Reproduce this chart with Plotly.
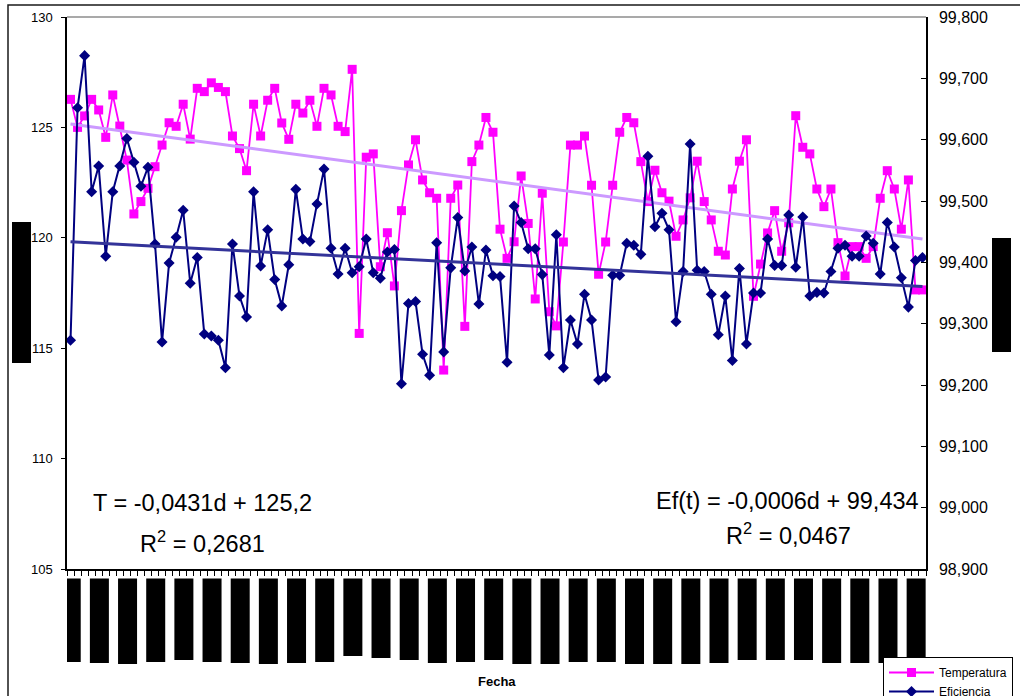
import numpy as np
import plotly.graph_objects as go

# Daily series (one value per day, 122 days)
temperatura = [
    126.27, 125.00, 125.52, 126.27, 125.79, 124.55, 126.47, 125.06, 123.52, 121.08,
    121.64, 122.24, 123.22, 124.20, 125.21, 125.05, 126.05, 124.47, 126.77, 126.62,
    127.02, 126.81, 126.62, 124.61, 124.04, 123.04, 126.05, 124.61, 126.23, 126.77,
    125.20, 124.46, 126.05, 125.65, 126.23, 125.05, 126.77, 126.47, 125.05, 124.81,
    127.63, 115.67, 123.65, 123.80, 118.69, 120.23, 117.82, 121.23, 123.30, 124.44,
    122.62, 122.04, 121.79, 114.01, 121.79, 122.39, 115.99, 123.45, 124.20, 125.45,
    124.78, 120.39, 119.07, 119.82, 122.80, 120.65, 117.23, 122.02, 116.65, 116.01,
    119.81, 124.20, 124.20, 124.61, 122.38, 118.35, 119.81, 122.38, 124.78, 125.45,
    125.21, 123.45, 121.64, 123.06, 122.04, 121.66, 120.07, 120.81, 121.81, 123.47,
    121.64, 120.81, 119.39, 119.22, 122.21, 123.47, 124.44, 117.35, 118.81, 120.22,
    121.23, 119.39, 120.68, 125.53, 124.10, 123.80, 122.21, 121.41, 122.21, 119.78,
    118.27, 119.60, 119.60, 119.07, 119.60, 121.79, 123.04, 122.21, 120.39, 122.62,
    117.64, 117.64,
]

eficiencia = [
    99.273, 99.652, 99.737, 99.515, 99.557, 99.410, 99.515, 99.557, 99.602, 99.563,
    99.524, 99.555, 99.430, 99.270, 99.399, 99.441, 99.485, 99.366, 99.408, 99.283,
    99.280, 99.273, 99.228, 99.430, 99.345, 99.311, 99.515, 99.394, 99.453, 99.372,
    99.329, 99.396, 99.519, 99.438, 99.434, 99.495, 99.552, 99.423, 99.381, 99.423,
    99.383, 99.393, 99.438, 99.383, 99.374, 99.417, 99.421, 99.202, 99.333, 99.336,
    99.250, 99.216, 99.432, 99.254, 99.391, 99.473, 99.386, 99.425, 99.332, 99.420,
    99.378, 99.377, 99.237, 99.492, 99.465, 99.422, 99.422, 99.380, 99.249, 99.445,
    99.228, 99.306, 99.267, 99.348, 99.306, 99.208, 99.213, 99.379, 99.379, 99.431,
    99.428, 99.413, 99.573, 99.458, 99.480, 99.453, 99.303, 99.385, 99.593, 99.387,
    99.385, 99.348, 99.282, 99.345, 99.240, 99.390, 99.267, 99.350, 99.350, 99.438,
    99.395, 99.395, 99.477, 99.392, 99.474, 99.345, 99.351, 99.350, 99.385, 99.423,
    99.428, 99.410, 99.410, 99.443, 99.431, 99.381, 99.465, 99.425, 99.375, 99.327,
    99.403, 99.408,
]

# Linear trend coefficients (d = day number, starting at 1)
t_pendiente, t_origen, t_r2 = -0.0431, 125.2, 0.2681
ef_pendiente, ef_origen, ef_r2 = -0.0006, 99.434, 0.0467

left_ticks = [105, 110, 115, 120, 125, 130]
right_ticks = [98.9, 99.0, 99.1, 99.2, 99.3, 99.4, 99.5, 99.6, 99.7, 99.8]

# ---------------------------------------------------------------------------
n = len(temperatura)
x = np.arange(n)
d = x + 1
t_trend = t_pendiente * d + t_origen
ef_trend = ef_pendiente * d + ef_origen

W, H = 1020, 696
ML, MR, MT, MB = 67, 94, 17, 127
PW, PH = W - ML - MR, H - MT - MB


def px(xp):
    return (xp - ML) / PW


def py(yp):
    return (H - MB - yp) / PH


def coma(v, dec):
    return f"{v:.{dec}f}".replace(".", ",")


FONT = "Arial, 'Liberation Sans', sans-serif"

fig = go.Figure()

fig.add_trace(go.Scatter(
    x=x, y=temperatura, name="Temperatura", mode="lines+markers",
    line=dict(color="#FF00FF", width=1.8),
    marker=dict(symbol="square", size=9, color="#FF00FF"),
    yaxis="y",
))
fig.add_trace(go.Scatter(
    x=x, y=eficiencia, name="Eficiencia", mode="lines+markers",
    line=dict(color="#000080", width=2),
    marker=dict(symbol="diamond", size=8.5, color="#000080"),
    yaxis="y2",
))
fig.add_trace(go.Scatter(
    x=x, y=t_trend, mode="lines", showlegend=False, hoverinfo="skip",
    line=dict(color="#CC99FF", width=3), yaxis="y",
))
fig.add_trace(go.Scatter(
    x=x, y=ef_trend, mode="lines", showlegend=False, hoverinfo="skip",
    line=dict(color="#333399", width=3), yaxis="y2",
))

shapes = []
# chart frame and plot-area top edge
shapes.append(dict(type="rect", xref="paper", yref="paper",
                   x0=px(8), x1=px(W + 20), y0=py(5), y1=py(H + 20),
                   line=dict(color="#1a1a1a", width=1.5), fillcolor="rgba(0,0,0,0)",
                   layer="below"))
shapes.append(dict(type="line", xref="paper", yref="paper",
                   x0=0, x1=1, y0=1, y1=1, line=dict(color="#8c8c8c", width=1.5)))

# black label blocks: axis titles and date tick labels
shapes.append(dict(type="rect", xref="paper", yref="paper",
                   x0=px(12), x1=px(31), y0=py(363), y1=py(222),
                   fillcolor="black", line=dict(width=0)))
shapes.append(dict(type="rect", xref="paper", yref="paper",
                   x0=px(992), x1=px(1011), y0=py(352), y1=py(238),
                   fillcolor="black", line=dict(width=0)))
etiqueta_fondo = [662, 663, 664, 662, 660, 662, 663, 664, 663, 662, 656,
                  658, 660, 663, 662, 660, 664, 664, 662, 662, 664, 664,
                  664, 663, 660, 660, 660, 663, 663, 663, 663]
for k, fondo in enumerate(etiqueta_fondo):
    c = 4 * k
    shapes.append(dict(type="rect", xref="x", yref="paper",
                       x0=c - 1.25, x1=c + 1.45, y0=py(fondo), y1=py(578.5),
                       fillcolor="black", line=dict(width=0)))

annotations = [
    dict(text=f"T = {coma(t_pendiente, 4)}d + {coma(t_origen, 1)}",
         x=px(202.7), y=py(502.9)),
    dict(text=f"R<sup>2</sup> = {coma(t_r2, 4)}", x=px(202.2), y=py(541.5)),
    dict(text=f"Ef(t) = {coma(ef_pendiente, 4)}d + {coma(ef_origen, 3)}",
         x=px(787.5), y=py(500.5)),
    dict(text=f"R<sup>2</sup> = {coma(ef_r2, 4)}", x=px(788.3), y=py(534)),
]
for a in annotations:
    a.update(xref="paper", yref="paper", showarrow=False, xanchor="center",
             yanchor="middle", font=dict(family=FONT, size=23.5, color="black"))
annotations.append(dict(text="<b>Fecha</b>", xref="paper", yref="paper",
                        x=px(497), y=py(681), showarrow=False,
                        xanchor="center", yanchor="middle",
                        font=dict(family=FONT, size=13, color="black")))

fig.update_layout(
    width=W, height=H,
    margin=dict(l=ML, r=MR, t=MT, b=MB, pad=0, autoexpand=False),
    paper_bgcolor="white", plot_bgcolor="white",
    separators=",.",
    font=dict(family=FONT, color="black"),
    showlegend=True,
    legend=dict(
        x=px(883), y=py(657), xanchor="left", yanchor="top",
        bgcolor="white", bordercolor="black", borderwidth=1,
        font=dict(family=FONT, size=12, color="black"),
        itemwidth=45, tracegroupgap=0,
    ),
    xaxis=dict(
        range=[-0.5, n - 0.5], showgrid=False, zeroline=False,
        showline=True, linecolor="black", linewidth=1.5,
        tickmode="array", tickvals=list(np.arange(n + 1) - 0.5),
        ticks="outside", ticklen=5, tickcolor="black", tickwidth=1,
        showticklabels=False,
    ),
    yaxis=dict(
        range=[105, 130], tickmode="array", tickvals=left_ticks,
        showgrid=False, zeroline=False, showline=True,
        linecolor="black", linewidth=1.5,
        ticks="outside", ticklen=4, tickcolor="black",
        ticklabelstandoff=6,
        tickfont=dict(family=FONT, size=13, color="black"),
    ),
    yaxis2=dict(
        range=[98.9, 99.8], overlaying="y", side="right",
        tickmode="array", tickvals=right_ticks, tickformat=".3f",
        showgrid=False, zeroline=False, showline=True,
        linecolor="black", linewidth=1.5,
        ticks="inside", ticklen=5, tickcolor="black",
        ticklabelstandoff=8,
        tickfont=dict(family=FONT, size=16, color="black"),
    ),
    shapes=shapes,
    annotations=annotations,
)

fig.write_html("out.html")
